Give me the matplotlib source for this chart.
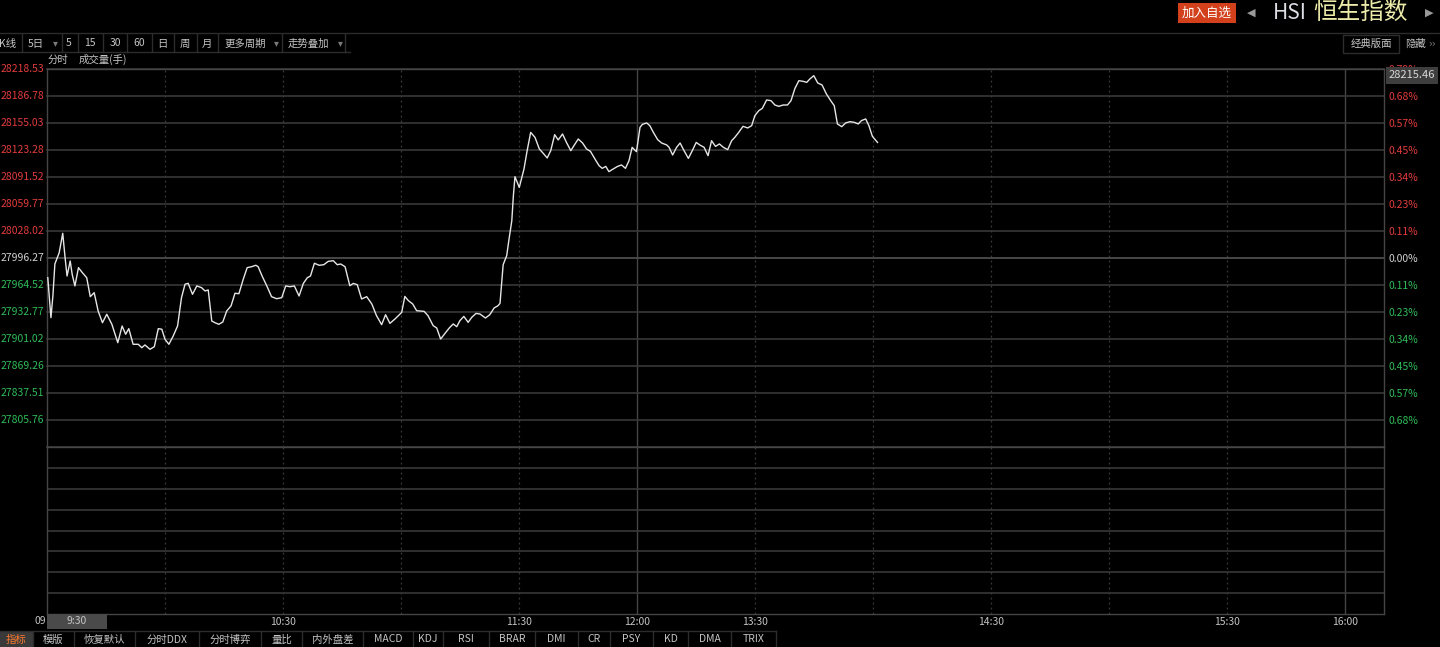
import matplotlib
matplotlib.use("Agg")
import matplotlib.pyplot as plt
from matplotlib.patches import Rectangle
from matplotlib.lines import Line2D

plt.rcParams['font.family'] = ['Noto Sans CJK SC', 'DejaVu Sans']

W, H = 1440, 647

# minutes since 9:30 (lunch break removed) and HSI level
t = [0.2, 0.5, 1.0, 1.5, 2.0, 3.1, 4.0, 4.6, 5.1, 5.9,
     6.4, 7.1, 8.0, 9.0, 10.1, 11.0, 12.0, 13.0, 14.1, 15.2,
     16.5, 18.0, 19.1, 20.0, 20.8, 21.9, 23.2, 24.1, 24.9, 26.2,
     27.3, 28.3, 29.2, 30.0, 31.0, 32.1, 33.2, 34.2, 35.1, 35.9,
     37.0, 38.1, 39.3, 40.2, 41.0, 41.9, 42.7, 43.7, 44.7, 45.7,
     46.8, 47.8, 48.8, 49.9, 50.9, 52.0, 53.1, 53.7, 54.7, 55.9,
     57.1, 58.4, 59.7, 60.7, 61.8, 62.9, 64.1, 65.2, 66.2, 67.0,
     68.0, 69.2,
     70.4, 71.5, 72.8, 73.8, 74.7, 75.8, 77.0, 77.9, 78.9, 80.0,
     81.3, 82.6, 83.8, 85.1, 86.1, 87.2, 88.5, 90.2, 91.0, 91.9,
     93.0, 94.0, 95.9, 96.9, 98.2, 99.1, 100.1, 101.2, 102.3, 103.3,
     104.2, 105.0, 106.0, 107.1, 108.0, 109.1, 110.1, 111.5, 112.6, 113.7,
     114.7, 115.2, 115.6, 116.0, 116.9, 117.5, 118.2, 118.6, 119.0, 120.1,
     121.3, 122.1, 123.0, 124.1, 125.2, 126.2, 127.2, 128.1, 129.1, 130.0,
     131.1, 132.1, 133.2, 134.0, 135.1, 136.2, 137.2, 138.2, 139.6,
     140.4, 141.2, 142.1, 142.9, 144.0, 145.1, 146.1, 147.1, 148.0, 148.8,
     149.9, 150.8, 151.4, 152.5, 153.3, 154.2, 155.3, 156.3, 157.6, 158.2,
     159.1, 160.1, 161.0, 162.0, 163.1, 164.1, 165.1, 166.0, 167.1, 168.1,
     169.0, 170.0, 171.0, 172.0, 173.1, 174.1, 174.9, 175.9, 177.0, 178.2,
     179.2, 180.0, 181.0, 181.9, 183.0, 184.1, 185.1, 186.1, 187.2, 188.3,
     189.2, 190.2, 191.2, 192.3, 193.2, 194.0, 195.0, 196.0, 197.1, 198.2,
     199.3, 200.2, 201.0, 202.1, 203.1, 204.2, 205.3, 206.3, 207.1, 208.2,
     209.0, 209.9, 211.2]

price = [27973.1, 27955.5, 27926.1, 27951.6, 27989.2, 28002.5, 28025.3, 27996.6, 27975.1, 27992.7,
         27977.1, 27963.4, 27984.9, 27979.0, 27973.1, 27950.8, 27955.5, 27934.0, 27920.2, 27930.1,
         27918.3, 27896.7, 27916.3, 27906.6, 27913.2, 27894.8, 27894.8, 27890.8, 27894.0, 27888.9,
         27892.0, 27913.2, 27912.5, 27900.7, 27894.8, 27904.6, 27916.3, 27949.6, 27965.4, 27966.5,
         27953.6, 27963.4, 27961.4, 27957.5, 27958.7, 27922.2, 27920.2, 27918.3, 27921.0, 27934.0,
         27939.9, 27954.8, 27954.3, 27971.2, 27984.9, 27986.0, 27987.7, 27986.0, 27975.1, 27963.4,
         27950.8, 27948.4, 27949.6, 27963.4, 27962.5, 27963.4, 27951.6, 27966.5, 27973.1, 27975.1,
         27990.1, 27987.7,
         27988.4, 27992.3, 27993.1, 27988.4, 27989.2, 27986.0, 27963.7, 27966.4, 27964.9, 27948.1,
         27950.8, 27942.2, 27928.4, 27917.9, 27929.6, 27919.4, 27924.6, 27932.3, 27951.1, 27946.1,
         27942.2, 27934.3, 27933.5, 27928.4, 27916.7, 27914.0, 27901.0, 27907.6, 27914.0, 27918.7,
         27915.5, 27922.6, 27927.6, 27920.6, 27926.4, 27931.1, 27930.4, 27925.7, 27929.6, 27937.5,
         27940.2, 27942.9, 27965.7, 27988.4, 27999.0, 28018.6, 28040.2, 28069.5, 28091.9, 28079.3,
         28101.0, 28122.5, 28144.0, 28138.1, 28124.5, 28119.3, 28113.9, 28122.5, 28141.3, 28135.1,
         28142.1, 28132.2, 28122.5, 28128.4, 28136.2, 28131.5, 28124.5, 28121.7, 28110.7,
         28104.8, 28101.7, 28104.0, 28097.8, 28101.0, 28104.0, 28105.7, 28101.7, 28110.7, 28126.4,
         28121.3, 28149.9, 28153.4, 28155.1, 28151.9, 28144.0, 28135.4, 28131.5, 28129.2, 28126.4,
         28117.4, 28126.4, 28131.5, 28122.5, 28113.4, 28122.5, 28132.2, 28129.2, 28126.4, 28116.6,
         28134.2, 28127.5, 28130.4, 28126.4, 28123.7, 28134.2, 28138.1, 28144.0, 28151.1, 28149.2,
         28151.9, 28163.6, 28169.5, 28172.2, 28182.1, 28181.3, 28176.2, 28174.6, 28176.2, 28176.2,
         28181.3, 28195.7, 28204.8, 28204.0, 28202.8, 28206.8, 28210.7, 28202.1, 28199.7, 28189.2,
         28181.3, 28175.4, 28153.9, 28150.7, 28155.1, 28156.6, 28155.8, 28153.9, 28157.8, 28159.8,
         28151.9, 28139.3, 28132.2]

base = 27996.27
bottom_level = 27774.01
left_labels = ["28218.53", "28186.78", "28155.03", "28123.28", "28091.52", "28059.77", "28028.02",
               "27996.27", "27964.52", "27932.77", "27901.02", "27869.26", "27837.51", "27805.76"]
right_labels = ["0.79%", "0.68%", "0.57%", "0.45%", "0.34%", "0.23%", "0.11%",
                "0.00%", "0.11%", "0.23%", "0.34%", "0.45%", "0.57%", "0.68%"]
last_box = "28215.46"

time_ticks = [60, 120, 150, 180, 240, 300, 330]
time_labels = ["10:30", "11:30", "12:00", "13:30", "14:30", "15:30", "16:00"]
dotted_minutes = [30, 60, 90, 120, 180, 210, 240, 270, 300]
solid_minutes = [150, 330]

toolbar = [("K线", 8), ("5日", 36), ("5", 69), ("15", 90), ("30", 115), ("60", 139),
           ("日", 162), ("周", 185), ("月", 207), ("更多周期", 245), ("走势叠加", 308)]
toolbar_seps = [22, 62, 78, 103, 127, 152, 174, 197, 218, 282, 345]
toolbar_arrows = [55, 276, 340]
tabs = ["指标", "模版", "恢复默认", "分时DDX", "分时博弈", "量比", "内外盘差", "MACD",
        "KDJ", "RSI", "BRAR", "DMI", "CR", "PSY", "KD", "DMA", "TRIX"]
tab_edges = [0, 33, 74, 135, 199, 261, 302, 363, 413, 443, 489, 535, 578, 610, 653, 688, 731, 776]

RED = '#e23c3c'
GREEN = '#2fbc58'
WHITE = '#d2d2d2'
GRID = '#383838'
TXT = '#c4c4c4'


def box(x0, y0, x1, y1):
    return [x0 / W, 1 - y1 / H, (x1 - x0) / W, (y1 - y0) / H]


def px(x, y):
    return x / W, 1 - y / H


def level_color(lv):
    if lv > base + 0.01:
        return RED
    if lv < base - 0.01:
        return GREEN
    return WHITE


fig = plt.figure(figsize=(W / 100, H / 100), dpi=100, facecolor='black')

ax = fig.add_axes(box(47, 69, 1384, 447))
axv = fig.add_axes(box(47, 447, 1384, 614))
for a in (ax, axv):
    a.set_facecolor('black')
    a.set_xlim(0, 340)
    for s in a.spines.values():
        s.set_color('#454545')
        s.set_linewidth(1)
    for m in dotted_minutes:
        a.axvline(m, color='#3a3a3a', lw=0.9, ls=(0, (1.5, 2.5)))
    for m in solid_minutes:
        a.axvline(m, color='#454545', lw=1)

# price pane
levels = [float(v) for v in left_labels]
ax.set_ylim(bottom_level, levels[0])
for lv in levels + [bottom_level]:
    ax.axhline(lv, color=GRID, lw=1.2, clip_on=False)
ax.axhline(base, color='#4a4a4a', lw=1.2)
ax.plot(t, price, color='#e6e6e6', lw=1.0, zorder=5)

ax.set_yticks(levels, left_labels)
ax.tick_params(axis='y', length=0, pad=2, labelsize=7.5)
for lab, lv in zip(ax.get_yticklabels(), levels):
    lab.set_color(level_color(lv))
    lab.set_verticalalignment('center')
ax.set_xticks([])

axr = ax.twinx()
axr.set_ylim(ax.get_ylim())
axr.set_yticks(levels, right_labels)
axr.tick_params(axis='y', length=0, pad=3, labelsize=7.5)
for lab, lv in zip(axr.get_yticklabels(), levels):
    lab.set_color(level_color(lv))
for s in axr.spines.values():
    s.set_visible(False)

# volume pane (empty)
axv.set_ylim(0, 8)
for k in range(1, 8):
    axv.axhline(k, color=GRID, lw=1.2)
axv.set_yticks([])
axv.set_xticks(time_ticks, time_labels)
axv.tick_params(axis='x', length=0, pad=2, labelsize=7.5, colors=TXT)

# time axis start marker
fig.add_artist(Rectangle(px(47, 629), 60 / W, 15 / H, transform=fig.transFigure,
                         facecolor='#4a4a4a', edgecolor='none'))
fig.text(*px(77, 621), "9:30", color=TXT, fontsize=7.5, ha='center', va='center')
fig.text(*px(46, 621), "09", color=TXT, fontsize=7.5, ha='right', va='center')

# last price box
fig.add_artist(Rectangle(px(1386, 84), 52 / W, 17 / H, transform=fig.transFigure,
                         facecolor='#3e3e3e', edgecolor='none'))
fig.text(*px(1412, 75.5), last_box, color='#d8d8d8', fontsize=8, ha='center', va='center')

# top separator and toolbar
fig.add_artist(Line2D([0, 1], [1 - 33 / H] * 2, transform=fig.transFigure, color='#2c2c2c', lw=1))
fig.add_artist(Line2D([0, 350 / W], [1 - 52 / H] * 2, transform=fig.transFigure, color='#2c2c2c', lw=1))
for sx in toolbar_seps:
    fig.add_artist(Line2D([sx / W] * 2, [1 - 34 / H, 1 - 52 / H], transform=fig.transFigure,
                          color='#2c2c2c', lw=1))
for label, cx in toolbar:
    fig.text(*px(cx, 43.5), label, color=TXT, fontsize=7.5, ha='center', va='center')
for ax_x in toolbar_arrows:
    fig.text(*px(ax_x, 43.5), "▾", color='#7a7a7a', fontsize=7, ha='center', va='center',
             family='DejaVu Sans')
fig.text(*px(48, 59.5), "分时", color=TXT, fontsize=7.5, ha='left', va='center')
fig.text(*px(79, 59.5), "成交量(手)", color=TXT, fontsize=7.5, ha='left', va='center')

# right header
fig.add_artist(Rectangle(px(1178, 23), 58 / W, 20 / H, transform=fig.transFigure,
                         facecolor='#d2401c', edgecolor='none'))
fig.text(*px(1207, 13), "加入自选", color='white', fontsize=9, ha='center', va='center')
fig.text(*px(1251, 13), "◀", color='#9a9a9a', fontsize=8, ha='center', va='center', family='DejaVu Sans')
fig.text(*px(1273, 13), "HSI", color='#dcdce4', fontsize=15, ha='left', va='center')
fig.text(*px(1313, 12.5), "恒生指数", color='#ecebaa', fontsize=17, ha='left', va='center')
fig.text(*px(1429, 13), "▶", color='#9a9a9a', fontsize=8, ha='center', va='center', family='DejaVu Sans')
fig.add_artist(Rectangle(px(1343, 53), 56 / W, 18 / H, transform=fig.transFigure,
                         facecolor='none', edgecolor='#2c2c2c', lw=1))
fig.text(*px(1371, 44), "经典版面", color=TXT, fontsize=7.5, ha='center', va='center')
fig.text(*px(1405, 44), "隐藏", color=TXT, fontsize=7.5, ha='left', va='center')
fig.text(*px(1432, 44), "››", color='#7a7a7a', fontsize=7, ha='center', va='center', family='DejaVu Sans')

# bottom tab bar
fig.add_artist(Rectangle(px(0, 647), 33 / W, 16 / H, transform=fig.transFigure,
                         facecolor='#3a3a3a', edgecolor='none'))
fig.add_artist(Line2D([0, tab_edges[-1] / W], [1 - 631 / H] * 2, transform=fig.transFigure,
                      color='#2c2c2c', lw=1))
for i, name in enumerate(tabs):
    x0, x1 = tab_edges[i], tab_edges[i + 1]
    fig.add_artist(Line2D([x1 / W] * 2, [1 - 631 / H, 0], transform=fig.transFigure,
                          color='#2c2c2c', lw=1))
    fig.text(*px((x0 + x1) / 2, 639.5), name, color='#ff7b2e' if i == 0 else TXT,
             fontsize=7.5, ha='center', va='center')

fig.savefig("out.png", dpi=100, facecolor='black')
